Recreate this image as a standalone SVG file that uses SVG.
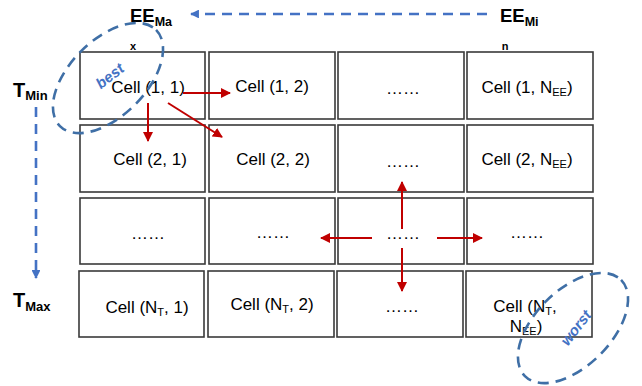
<svg xmlns="http://www.w3.org/2000/svg" width="642" height="386" viewBox="0 0 642 386">
  <style>
    .cell { fill: #ffffff; stroke: #3a3a3a; stroke-width: 1.6; }
    .t { font-family: "Liberation Sans", Arial, sans-serif; font-size: 17px; fill: #000; text-anchor: middle; }
    .sub { font-size: 11px; }
    .lbl { font-family: "Liberation Sans", Arial, sans-serif; font-weight: bold; fill: #000; }
    .red { stroke: #c00000; stroke-width: 2; fill: none; marker-end: url(#rh); }
    .blue { stroke: #4472c4; stroke-width: 2.6; fill: none; stroke-dasharray: 10 7; marker-end: url(#bh); }
    .ring { stroke: #3f6fa6; stroke-width: 2.6; fill: none; stroke-dasharray: 11 7; }
    .tag { font-family: "Liberation Sans", Arial, sans-serif; font-weight: bold; font-style: italic; font-size: 15px; fill: #4472c4; text-anchor: middle; }
  </style>
  <defs>
    <marker id="rh" viewBox="0 0 10 10" refX="9" refY="5" markerWidth="5" markerHeight="5" orient="auto" markerUnits="strokeWidth">
      <path d="M0,0 L10,5 L0,10 z" fill="#c00000"/>
    </marker>
    <marker id="bh" viewBox="0 0 10 10" refX="9" refY="5" markerWidth="3.4" markerHeight="3.4" orient="auto" markerUnits="strokeWidth">
      <path d="M0,0 L10,5 L0,10 z" fill="#4472c4"/>
    </marker>
  </defs>

  <!-- axis labels -->
  <g id="ee-max"><text class="lbl" x="130" y="22" font-size="18.5">EE<tspan font-size="12.5" dy="4">Ma</tspan></text></g>
  <g id="ee-min"><text class="lbl" x="500" y="22" font-size="18.5">EE<tspan font-size="12.5" dy="4">Mi</tspan></text></g>
  <g id="t-min"><text class="lbl" x="13" y="97" font-size="20">T<tspan font-size="13" dy="3">Min</tspan></text></g>
  <g id="t-max"><text class="lbl" x="13" y="307" font-size="20">T<tspan font-size="13" dy="4">Max</tspan></text></g>
  <g id="mark-x"><text class="lbl" x="133" y="50" font-size="11" text-anchor="middle">x</text></g>
  <g id="mark-n"><text class="lbl" x="505" y="50" font-size="11" text-anchor="middle">n</text></g>

  <!-- row 1 -->
  <g id="c11"><rect class="cell" x="80" y="52" width="125" height="67"/><text class="t" x="148" y="93">Cell (1, 1)</text></g>
  <g id="c12"><rect class="cell" x="209" y="52" width="126" height="67"/><text class="t" x="272" y="92">Cell (1, 2)</text></g>
  <g id="c13"><rect class="cell" x="338" y="52" width="126" height="67"/><text class="t" x="403" y="94">……</text></g>
  <g id="c14"><rect class="cell" x="467" y="52" width="126" height="67"/><text class="t" x="527" y="93">Cell (1, N<tspan class="sub" dy="3">EE</tspan><tspan dy="-3">)</tspan></text></g>

  <!-- row 2 -->
  <g id="c21"><rect class="cell" x="80" y="125" width="125" height="67"/><text class="t" x="150" y="165">Cell (2, 1)</text></g>
  <g id="c22"><rect class="cell" x="209" y="125" width="126" height="67"/><text class="t" x="273" y="165">Cell (2, 2)</text></g>
  <g id="c23"><rect class="cell" x="338" y="125" width="126" height="67"/><text class="t" x="403" y="167">……</text></g>
  <g id="c24"><rect class="cell" x="467" y="125" width="126" height="67"/><text class="t" x="527" y="165">Cell (2, N<tspan class="sub" dy="3">EE</tspan><tspan dy="-3">)</tspan></text></g>

  <!-- row 3 -->
  <g id="c31"><rect class="cell" x="80" y="198" width="125" height="66"/><text class="t" x="148" y="239">……</text></g>
  <g id="c32"><rect class="cell" x="209" y="198" width="126" height="66"/><text class="t" x="273" y="238">……</text></g>
  <g id="c33"><rect class="cell" x="338" y="198" width="126" height="66"/><text class="t" x="403" y="239">……</text></g>
  <g id="c34"><rect class="cell" x="467" y="198" width="126" height="66"/><text class="t" x="527" y="238">……</text></g>

  <!-- row 4 -->
  <g id="c41"><rect class="cell" x="79" y="271" width="125" height="66"/><text class="t" x="147" y="313">Cell (N<tspan class="sub" dy="3">T</tspan><tspan dy="-3">, 1)</tspan></text></g>
  <g id="c42"><rect class="cell" x="208" y="271" width="126" height="66"/><text class="t" x="272" y="310">Cell (N<tspan class="sub" dy="3">T</tspan><tspan dy="-3">, 2)</tspan></text></g>
  <g id="c43"><rect class="cell" x="337" y="271" width="126" height="66"/><text class="t" x="402" y="312">……</text></g>
  <g id="c44"><rect class="cell" x="466" y="271" width="126" height="66"/>
    <text class="t" x="525" y="312">Cell (N<tspan class="sub" dy="3">T</tspan><tspan dy="-3">,</tspan></text>
    <text class="t" x="526" y="332">N<tspan class="sub" dy="3">EE</tspan><tspan dy="-3">)</tspan></text>
  </g>

  <!-- connectors -->
  <g id="connectors">
    <path class="blue" d="M487,14 L191,14"/>
    <path class="blue" d="M36,107 L36,278"/>
    <path class="red" d="M183,93 L230,93"/>
    <path class="red" d="M148,103 L148,141"/>
    <path class="red" d="M168,103 L222,137"/>
    <path class="red" d="M402,229 L402,182"/>
    <path class="red" d="M372,238 L321,238"/>
    <path class="red" d="M437,238 L482,238"/>
    <path class="red" d="M402,248 L402,291"/>
  </g>

  <!-- best / worst regions -->
  <g id="best">
    <ellipse class="ring" cx="108" cy="78" rx="68" ry="38" transform="rotate(-45 108 78)"/>
    <text class="tag" x="113" y="80" transform="rotate(-38 113 80)">best</text>
  </g>
  <g id="worst">
    <ellipse class="ring" cx="573" cy="328" rx="68" ry="38" transform="rotate(-45 573 328)"/>
    <text class="tag" x="580" y="331" transform="rotate(-52 580 331)">worst</text>
  </g>
</svg>
